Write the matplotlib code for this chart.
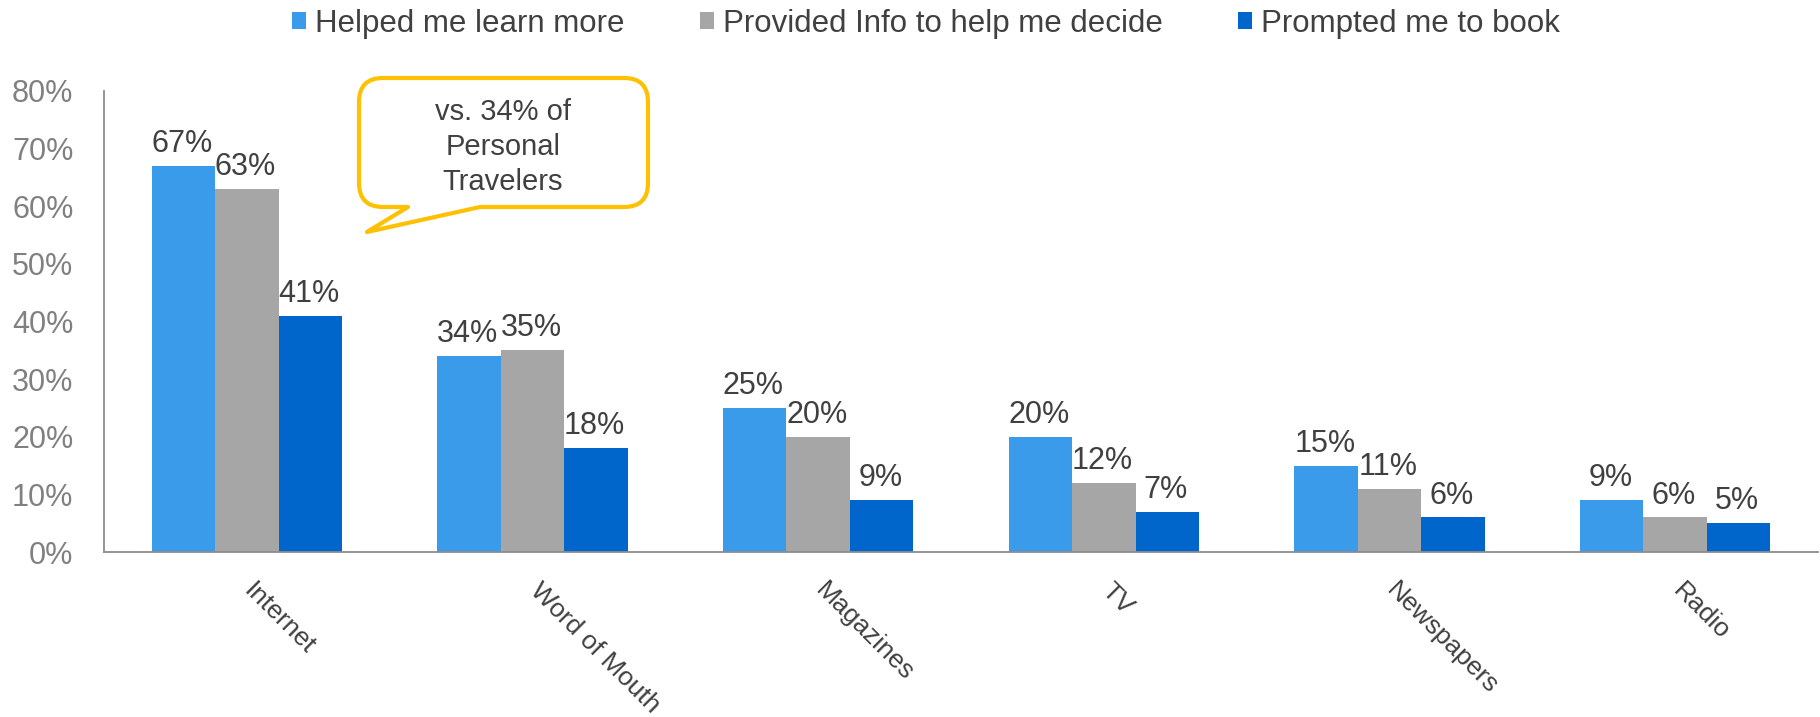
import numpy as np
import matplotlib
matplotlib.use("Agg")
import matplotlib.pyplot as plt
from matplotlib.path import Path
from matplotlib.patches import PathPatch, Patch
from matplotlib.ticker import PercentFormatter

plt.rcParams["font.family"] = ["Liberation Sans", "DejaVu Sans"]

categories = ["Internet", "Word of Mouth", "Magazines", "TV", "Newspapers", "Radio"]
series_names = ["Helped me learn more", "Provided Info to help me decide", "Prompted me to book"]
learn_more = [67, 34, 25, 20, 15, 9]
decide = [63, 35, 20, 12, 11, 6]
book = [41, 18, 9, 7, 6, 5]
colors = ["#399BE9", "#A6A6A6", "#0066CC"]

TEXT = "#404040"
W, H = 1820, 717

fig = plt.figure(figsize=(W / 100, H / 100), dpi=100)
ax = fig.add_axes([104 / W, 1 - 552 / H, (1818 - 104) / W, (552 - 91) / H])

x = np.arange(len(categories))
bw = 0.222
for i, (vals, name, c) in enumerate(zip([learn_more, decide, book], series_names, colors)):
    pos = x + (i - 1) * bw
    ax.bar(pos, vals, width=bw, color=c, label=name, zorder=2)
    for px, v in zip(pos, vals):
        ax.annotate(f"{v}%", (px, v), xytext=(-1, 10), textcoords="offset points",
                    ha="center", va="baseline", fontsize=22, color=TEXT)

ax.set_xlim(-0.5, len(categories) - 0.5)
ax.set_ylim(0, 80)
ax.set_yticks(np.arange(0, 81, 10))
ax.yaxis.set_major_formatter(PercentFormatter(decimals=0))
ax.tick_params(axis="y", length=0, labelsize=22, labelcolor="#808080", pad=22)
ax.tick_params(axis="x", length=0)
ax.set_xticks(x)
ax.set_xticklabels([])
for s in ["top", "right"]:
    ax.spines[s].set_visible(False)
for s in ["left", "bottom"]:
    ax.spines[s].set_color("#8C8C8C")
    ax.spines[s].set_linewidth(1.3)

# rotated category names hanging below each group
for xi, cat in zip(x, categories):
    ax.annotate(cat, (xi, 0), xytext=(7, -19), textcoords="offset points",
                rotation=-45, rotation_mode="anchor", ha="left", va="top",
                fontsize=19, color=TEXT)

handles = [Patch(facecolor=c, edgecolor="none") for c in colors]
fig.legend(handles, series_names, loc="center", bbox_to_anchor=(926 / W, 1 - 24 / H),
           ncol=3, frameon=False, fontsize=22.5, handlelength=0.45, handleheight=0.45,
           handletextpad=0.3, columnspacing=2.4, labelcolor=TEXT)

# speech bubble callout
x0, x1, y0, y1, r = 359, 648, 78, 207, 24
tip = (367, 232)
pts = [
    ((x0 + r, y0), Path.MOVETO),
    ((x1 - r, y0), Path.LINETO),
    ((x1, y0), Path.CURVE3), ((x1, y0 + r), Path.CURVE3),
    ((x1, y1 - r), Path.LINETO),
    ((x1, y1), Path.CURVE3), ((x1 - r, y1), Path.CURVE3),
    ((480, y1), Path.LINETO),
    (tip, Path.LINETO),
    ((408, y1), Path.LINETO),
    ((x0 + r, y1), Path.LINETO),
    ((x0, y1), Path.CURVE3), ((x0, y1 - r), Path.CURVE3),
    ((x0, y0 + r), Path.LINETO),
    ((x0, y0), Path.CURVE3), ((x0 + r, y0), Path.CURVE3),
    ((x0 + r, y0), Path.CLOSEPOLY),
]
verts = [(px / W, 1 - py / H) for (px, py), _ in pts]
codes = [c for _, c in pts]
bubble = PathPatch(Path(verts, codes), transform=fig.transFigure, facecolor="white",
                   edgecolor="#FFC000", linewidth=3, joinstyle="round", zorder=5)
fig.add_artist(bubble)
fig.text(503 / W, 1 - 147 / H, "vs. 34% of\nPersonal\nTravelers", ha="center", va="center",
         fontsize=21, color=TEXT, linespacing=1.3, zorder=6)

fig.savefig("out.png", dpi=100)
